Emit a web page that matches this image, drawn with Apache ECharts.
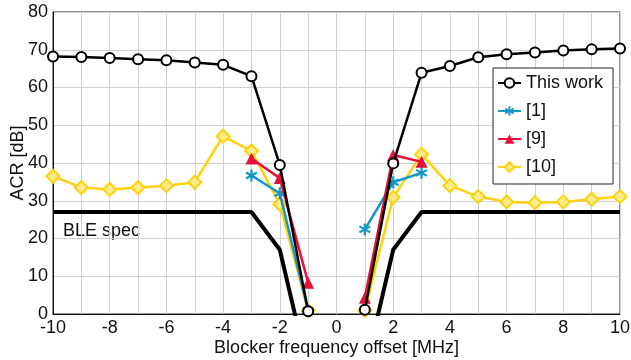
<!DOCTYPE html>
<html>
<head>
<meta charset="utf-8">
<script src="https://cdn.jsdelivr.net/npm/echarts@6/dist/echarts.min.js"></script>
<style>
  html, body { margin: 0; padding: 0; background: #fff; }
  #main { width: 631px; height: 360px; }
</style>
</head>
<body>
<div id="main"></div>
<script>
// blocker offsets in MHz, -10 .. 10
const offsets = [-10, -9, -8, -7, -6, -5, -4, -3, -2, -1, 0, 1, 2, 3, 4, 5, 6, 7, 8, 9, 10];
// ACR in dB, null = no measurement
const thisWork = [68.2, 68.1, 67.8, 67.5, 67.2, 66.6, 66.0, 63.0, 39.5, 0.7, null, 1.1, 39.9, 63.9, 65.7, 68.0, 68.8, 69.3, 69.8, 70.1, 70.3];
const ref1 = [null, null, null, null, null, null, null, 36.7, 32.0, 0.9, null, 22.4, 34.9, 37.4, null, null, null, null, null, null, null];
const ref9 = [null, null, null, null, null, null, null, 41.2, 36.0, 8.3, null, 4.3, 42.1, 40.3, null, null, null, null, null, null, null];
const ref10 = [36.5, 33.5, 33.0, 33.5, 34.0, 34.9, 47.1, 43.2, 29.1, 0.9, null, 1.0, 30.9, 42.3, 34.0, 31.1, 29.7, 29.5, 29.7, 30.4, 31.1];
const bleSpec = [27, 27, 27, 27, 27, 27, 27, 27, 17, -15, -21, -15, 17, 27, 27, 27, 27, 27, 27, 27, 27];

const toPairs = (vals) => offsets.map((x, i) => [x, vals[i] === null ? '-' : vals[i]]);

const FONT = 'Liberation Sans, Arial, sans-serif';
const BLUE = '#1597c5';
const RED = '#e2123c';
const YELLOW = '#fdd10c';

// asterisk marker made of three thin bars
const starPath = 'path://M-0.9,-5 L0.9,-5 L0.9,5 L-0.9,5 Z ' +
  'M-4.78,-1.721 L-3.88,-3.279 L4.78,1.721 L3.88,3.279 Z ' +
  'M3.88,-3.279 L4.78,-1.721 L-3.88,3.279 L-4.78,1.721 Z';

let myChart = echarts.init(document.getElementById('main'));
myChart.setOption({
  animation: false,
  textStyle: { fontFamily: FONT },
  grid: {
    left: 53,
    right: 11,
    top: 12,
    bottom: 46,
    outerBoundsMode: 'none',
    containLabel: false,
    show: true,
    borderColor: '#262626',
    borderWidth: 1
  },
  legend: {
    orient: 'vertical',
    left: 493,
    top: 68,
    padding: [6, 10, 8, 4],
    itemGap: 10,
    itemWidth: 23,
    itemHeight: 12,
    backgroundColor: '#fff',
    borderColor: '#222',
    borderWidth: 1,
    textStyle: { fontSize: 18, color: '#111', fontFamily: FONT },
    data: ['This work', '[1]', '[9]', '[10]']
  },
  xAxis: {
    type: 'value',
    min: -10,
    max: 10,
    interval: 1,
    name: 'Blocker frequency offset [MHz]',
    nameLocation: 'middle',
    nameMoveOverlap: false,
    nameGap: 25,
    nameTextStyle: { fontSize: 18, color: '#111' },
    axisLine: { onZero: false, lineStyle: { color: '#111' } },
    axisTick: { show: false },
    axisLabel: {
      fontSize: 18,
      color: '#111',
      margin: 5,
      formatter: (v) => (v % 2 === 0 ? String(v) : '')
    },
    splitLine: { lineStyle: { color: '#d0d0d0', width: 1 } }
  },
  yAxis: {
    type: 'value',
    min: 0,
    max: 80,
    interval: 10,
    name: 'ACR [dB]',
    nameLocation: 'middle',
    nameMoveOverlap: false,
    nameGap: 26,
    nameTextStyle: { fontSize: 18, color: '#111' },
    axisLine: { show: true, onZero: false, lineStyle: { color: '#111' } },
    axisTick: { show: false },
    axisLabel: { fontSize: 18, color: '#111', margin: 5 },
    splitLine: { lineStyle: { color: '#d0d0d0', width: 1 } }
  },
  graphic: [
    {
      type: 'text',
      left: 63,
      top: 222,
      style: { text: 'BLE spec', fontSize: 18, fill: '#111', fontFamily: FONT }
    }
  ],
  series: [
    {
      name: 'BLE spec',
      type: 'line',
      data: toPairs(bleSpec),
      symbol: 'none',
      clip: true,
      lineStyle: { color: '#000', width: 4 },
      itemStyle: { color: '#000' },
      z: 1
    },
    {
      name: '[10]',
      type: 'line',
      data: toPairs(ref10),
      symbol: 'diamond',
      symbolSize: 13,
      lineStyle: { color: YELLOW, width: 2.5 },
      itemStyle: { color: '#ffec8a', borderColor: YELLOW, borderWidth: 2 },
      z: 2
    },
    {
      name: '[1]',
      type: 'line',
      data: toPairs(ref1),
      symbol: starPath,
      symbolSize: 12,
      lineStyle: { color: BLUE, width: 2.5 },
      itemStyle: { color: BLUE, borderWidth: 0 },
      z: 3
    },
    {
      name: '[9]',
      type: 'line',
      data: toPairs(ref9),
      symbol: 'triangle',
      symbolSize: 12,
      lineStyle: { color: RED, width: 2.5 },
      itemStyle: { color: RED, borderWidth: 0 },
      z: 4
    },
    {
      name: 'This work',
      type: 'line',
      data: toPairs(thisWork),
      symbol: 'emptyCircle',
      symbolSize: 10,
      lineStyle: { color: '#000', width: 2.5 },
      itemStyle: { color: '#000', borderColor: '#000', borderWidth: 2 },
      z: 5
    }
  ]
});
</script>
</body>
</html>
